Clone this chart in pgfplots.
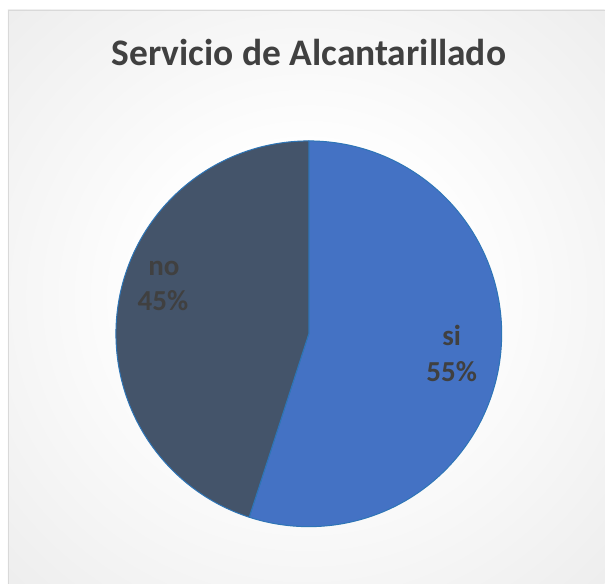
\documentclass[border=0pt]{standalone}
\usepackage{fontspec}
\setmainfont{Carlito}
\usepackage{pgfplots}
\pgfplotsset{compat=1.18}
\usepackage{pgfplotstable}
\definecolor{siblue}{HTML}{4472C4}
\definecolor{noslate}{HTML}{44546A}
\definecolor{edge}{HTML}{2E75B6}
\definecolor{txt}{HTML}{404040}
\definecolor{bgout}{RGB}{200,200,200}
\definecolor{bgmid}{RGB}{238,238,238}
\definecolor{frameline}{RGB}{217,217,217}
\pgfdeclareradialshading{bgshade}{\pgfpoint{0bp}{0bp}}{color(0bp)=(white); color(12bp)=(white); color(35bp)=(bgmid); color(71bp)=(bgout)}
\pgfplotstableread{
label value
si 55
no 45
}\piedata
\begin{document}
\begin{tikzpicture}
\fill[white] (0pt,0pt) rectangle (605pt,584pt);
\shade[shading=bgshade] (8pt,0pt) rectangle (605pt,574pt);
\draw[frameline, line width=0.75pt] (8pt,0pt) -- (8pt,574pt) -- (605pt,574pt);
\node[font=\bfseries\fontsize{37.5}{45}\selectfont, text=txt, anchor=base, inner sep=0pt] at (309pt,518.3pt) {Servicio de Alcantarillado};
\pgfplotstablegetelem{0}{value}\of\piedata \let\vsi\pgfplotsretval
\pgfplotstablegetelem{1}{value}\of\piedata \let\vno\pgfplotsretval
\pgfmathsetmacro\aA{90}
\pgfmathsetmacro\aB{90-3.6*\vsi}
\pgfmathsetmacro\aC{\aB-3.6*\vno}
\begin{axis}[at={(309pt,250pt)}, anchor=center, width=386pt, height=386pt, scale only axis, hide axis, xmin=-1, xmax=1, ymin=-1, ymax=1, clip=false]
\addplot[fill=siblue, draw=edge, line width=1pt, domain=\aA:\aB, samples=150, variable=\t, mark=none, line join=round] ({cos(\t)},{sin(\t)}) -- (axis cs:0,0) -- cycle;
\addplot[fill=noslate, draw=edge, line width=1pt, domain=\aB:\aC, samples=150, variable=\t, mark=none, line join=round] ({cos(\t)},{sin(\t)}) -- (axis cs:0,0) -- cycle;
\node[font=\bfseries\fontsize{29}{35}\selectfont, text=txt, anchor=base, inner sep=0pt] at (axis cs:-0.751,0.3005) {no};
\node[font=\bfseries\fontsize{29}{35}\selectfont, text=txt, anchor=base, inner sep=0pt] at (axis cs:-0.756,0.119) {45\%};
\node[font=\bfseries\fontsize{29}{35}\selectfont, text=txt, anchor=base, inner sep=0pt] at (axis cs:0.741,-0.062) {si};
\node[font=\bfseries\fontsize{29}{35}\selectfont, text=txt, anchor=base, inner sep=0pt] at (axis cs:0.741,-0.249) {55\%};
\end{axis}
\end{tikzpicture}
\end{document}
